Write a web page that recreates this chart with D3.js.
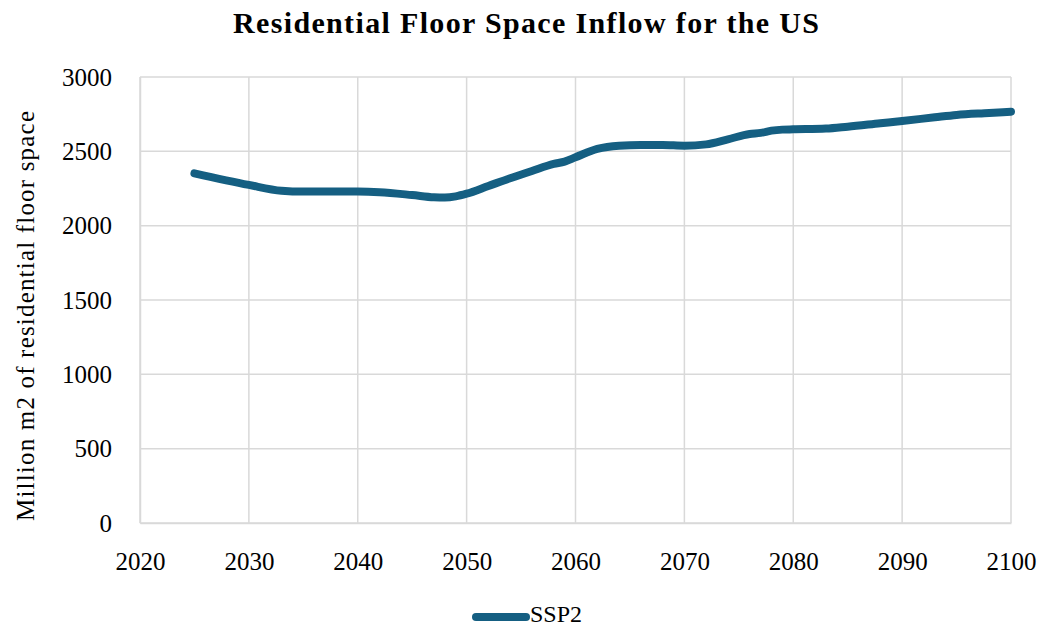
<!DOCTYPE html>
<html>
<head>
<meta charset="utf-8">
<script src="https://cdn.jsdelivr.net/npm/d3@7/dist/d3.min.js"></script>
<style>
  html, body { margin: 0; padding: 0; background: #fff; }
  svg { display: block; font-family: "Liberation Serif", "DejaVu Serif", serif; }
</style>
</head>
<body>
<svg id="chart" width="1053" height="628"></svg>
<script>
// Residential floor space inflow, SSP2 scenario (million m2)
const years = [2025, 2030, 2033, 2035, 2040, 2042, 2045, 2047, 2048, 2049, 2050, 2052, 2054, 2056,
               2058, 2059, 2060, 2062, 2064, 2066, 2068, 2070, 2072, 2074, 2076, 2077, 2078, 2079,
               2080, 2083, 2085, 2088, 2090, 2093, 2095, 2098, 2100];
const ssp2 = [2352, 2274, 2235, 2229, 2229, 2225, 2206, 2191, 2189, 2197, 2215, 2267, 2319, 2368,
              2415, 2431, 2460, 2516, 2538, 2543, 2543, 2538, 2547, 2581, 2617, 2624, 2639, 2646,
              2648, 2653, 2666, 2689, 2704, 2729, 2745, 2758, 2767];
const xTicks = [2020, 2030, 2040, 2050, 2060, 2070, 2080, 2090, 2100];
const yTicks = [0, 500, 1000, 1500, 2000, 2500, 3000];
const seriesName = "SSP2";
const titleText = "Residential Floor Space Inflow for the US";
const yTitle = "Million m2 of residential floor space";

const svg = d3.select("#chart");
const m = { left: 140, right: 1011, top: 77, bottom: 523 };
const lineColor = "#155f82";
const gridColor = "#d9d9d9";

const x = d3.scaleLinear().domain([2020, 2100]).range([m.left, m.right]);
const y = d3.scaleLinear().domain([0, 3000]).range([m.bottom, m.top]);

// grid
svg.append("g").selectAll("line.h").data(yTicks).join("line")
  .attr("x1", m.left).attr("x2", m.right)
  .attr("y1", d => y(d)).attr("y2", d => y(d))
  .attr("stroke", gridColor).attr("stroke-width", 1.5);
svg.append("g").selectAll("line.v").data(xTicks).join("line")
  .attr("x1", d => x(d)).attr("x2", d => x(d))
  .attr("y1", m.top).attr("y2", m.bottom)
  .attr("stroke", gridColor).attr("stroke-width", 1.5);

// axes
const xAxis = d3.axisBottom(x).tickValues(xTicks).tickFormat(d3.format("d")).tickSize(0);
const gx = svg.append("g").attr("transform", `translate(0,${m.bottom})`).call(xAxis);
gx.select(".domain").attr("stroke", gridColor).attr("stroke-width", 1.5);
gx.selectAll("text").attr("font-size", 25).attr("fill", "#000")
  .attr("font-family", "Liberation Serif, serif")
  .attr("dy", null).attr("y", 47);

const yAxis = d3.axisLeft(y).tickValues(yTicks).tickFormat(d3.format("d")).tickSize(0).tickPadding(28);
const gy = svg.append("g").attr("transform", `translate(${m.left},0)`).call(yAxis);
gy.select(".domain").attr("stroke", gridColor).attr("stroke-width", 1.5);
gy.selectAll("text").attr("font-size", 25).attr("fill", "#000")
  .attr("font-family", "Liberation Serif, serif");

// series line
const line = d3.line().x((d, i) => x(years[i])).y(d => y(d)).curve(d3.curveMonotoneX);
svg.append("path").datum(ssp2)
  .attr("d", line)
  .attr("fill", "none")
  .attr("stroke", lineColor)
  .attr("stroke-width", 8)
  .attr("stroke-linecap", "round")
  .attr("stroke-linejoin", "round");

// title
svg.append("text")
  .attr("x", 526).attr("y", 33)
  .attr("text-anchor", "middle")
  .attr("font-size", 30).attr("font-weight", "bold")
  .attr("textLength", 586).attr("lengthAdjust", "spacing")
  .text(titleText);

// y-axis title
svg.append("text")
  .attr("transform", `translate(34,316) rotate(-90)`)
  .attr("text-anchor", "middle")
  .attr("font-size", 25)
  .attr("textLength", 410).attr("lengthAdjust", "spacing")
  .text(yTitle);

// legend
const lg = svg.append("g");
lg.append("line").attr("x1", 476).attr("x2", 526).attr("y1", 617).attr("y2", 617)
  .attr("stroke", lineColor).attr("stroke-width", 8).attr("stroke-linecap", "round");
lg.append("text").attr("x", 530).attr("y", 622).attr("font-size", 24).text(seriesName);
</script>
</body>
</html>
